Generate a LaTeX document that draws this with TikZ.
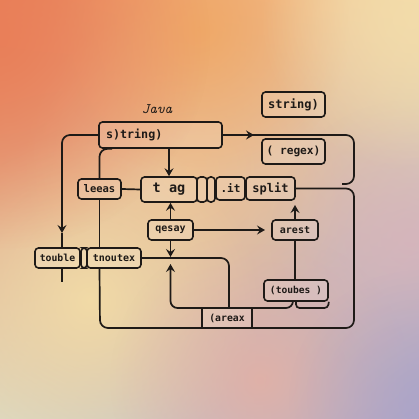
\documentclass[tikz,border=0pt]{standalone}
\usepackage{fontspec}
\newfontfamily\dvmono{DejaVu Sans Mono}
\usetikzlibrary{arrows.meta,fadings,calc,shadings}
\definecolor{ink}{HTML}{1E1A17}
\definecolor{bgUL}{HTML}{EA835A}
\definecolor{bgUR}{HTML}{F3DCAA}
\definecolor{bgLL}{HTML}{DCD8C0}
\definecolor{bgLR}{HTML}{ACA4C8}
\definecolor{blobY}{HTML}{F3DCA6}
\definecolor{blobO}{HTML}{E97E58}
\definecolor{blobT}{HTML}{F0A865}
\definecolor{blobP}{HTML}{E6AFA2}
\definecolor{blobR}{HTML}{D9B2BC}
\definecolor{blobC}{HTML}{F0C594}
\tikzfading[name=blobfade, inner color=transparent!0, outer color=transparent!100]
\begin{document}
\begin{tikzpicture}[x=1pt,y=-1pt,
  wire/.style={draw=ink, line width=1.7pt},
  arr/.style={-{Stealth[length=8pt,width=9pt,inset=3pt]}},
  box/.style={draw=ink, line width=1.6pt, rounded corners=3.5pt, fill=white, fill opacity=0.14, text opacity=1, text=ink, inner sep=0pt},
  sqbox/.style={box, rounded corners=0pt},
  mono/.style={font=\fontsize{#1}{#1}\selectfont\dvmono\bfseries}
]
\useasboundingbox (0,0) rectangle (419,419);
\shade[upper left=bgUL, upper right=bgUR, lower left=bgLL, lower right=bgLR] (0,0) rectangle (419,419);
\begin{scope}
\clip (0,0) rectangle (419,419);
\fill[blobC, path fading=blobfade, fill opacity=0.8] (190,170) circle (170);
\fill[blobT, path fading=blobfade, fill opacity=0.9] (200,30) circle (150);
\fill[blobY, path fading=blobfade, fill opacity=0.95] (90,300) circle (170);
\fill[blobO, path fading=blobfade, fill opacity=0.9] (0,40) circle (210);
\fill[blobP, path fading=blobfade, fill opacity=0.8] (260,380) circle (150);
\fill[blobR, path fading=blobfade, fill opacity=0.7] (410,240) circle (140);
\fill[bgUR, path fading=blobfade, fill opacity=0.85] (410,20) circle (150);
\fill[bgLR, path fading=blobfade, fill opacity=0.6] (419,400) circle (130);
\end{scope}

% title
\node[text=ink, font=\fontsize{14.5}{14.5}\selectfont\ttfamily\itshape] (java) at (157,109) {Java};

% boxes
\node[box, mono=12, minimum width=63pt, minimum height=25pt] (str2) at (293.5,104.5) {string)};
\node[box, mono=11.7, minimum height=26pt, text width=109pt, align=left, inner xsep=7pt] (str1) at (160.5,135) {s)tring)};
\node[box, mono=11.2, minimum width=63pt, minimum height=25pt] (regex) at (293.5,151.5) {( regex)};
\node[box, mono=13.5, minimum width=56pt, minimum height=25pt] (tag) at (169,189.5) {t ag};
\node[box, minimum width=10pt, minimum height=25pt] (sma) at (202,189.5) {};
\node[box, minimum width=8pt, minimum height=25pt] (smb) at (211,189.5) {};
\node[box, mono=11, minimum width=29pt, minimum height=23pt] (it) at (230.5,188.5) {.it};
\node[box, mono=12, minimum width=49pt, minimum height=23pt] (split) at (270.5,188.5) {split};
\node[box, mono=10.5, minimum width=43pt, minimum height=20pt] (leeas) at (99.5,189) {leeas};
\node[box, mono=10, minimum width=45pt, minimum height=20pt] (qesay) at (170.5,230) {qesay};
\node[box, mono=10, minimum width=46pt, minimum height=20pt] (arest) at (295,230) {arest};
\node[box, mono=9.8, minimum width=45pt, minimum height=20pt] (touble) at (57.5,258) {touble};
\node[box, minimum width=6pt, minimum height=20pt] (smc) at (84,258) {};
\node[box, mono=10, minimum width=54pt, minimum height=20pt] (tnoutex) at (114,258) {tnoutex};
\node[box, mono=9.6, minimum width=64pt, minimum height=21pt] (toubes) at (296,290.5) {(toubes )};
\node[sqbox, mono=9.8, minimum width=50pt, minimum height=20pt] (areax) at (227,318) {(areax};

% strip under toubes
\draw[wire, rounded corners=3.5pt] (toubes.south -| 296,0) -- (296,308) -- (328,308) -- (toubes.south east);

% coordinates for free ends
\coordinate (rtip) at (254,135);
\coordinate (ltip) at (62,233);
\coordinate (lend) at (62,282);
\coordinate (qtip) at (170.5,257);
\coordinate (utip) at (170.5,264);
\coordinate (qr) at (265,230);
\coordinate (atip) at (295,205);
\coordinate (ax) at (229,308);
\coordinate (sb) at (293,301);
\coordinate (rend) at (342,184);

% connectors
\draw[wire, rounded corners=8pt] (str1.east) -- (354,135) -- (354,184) -- (rend);
\draw[wire, arr] (str1.east) -- (rtip);
\draw[wire, rounded corners=8pt] (split.east) -- (354,188.5) -- (354,328) -- (100,328) -- (tnoutex.south -| leeas.south);
\draw[wire] (tnoutex.north -| leeas.south) -- (leeas.south);
\draw[wire, rounded corners=8pt] (leeas.north) |- ($(str1.south west)+(14,0)$);
\draw[wire, rounded corners=8pt, arr] (str1.west) -| (ltip);
\draw[wire] (ltip) -- (ltip |- touble.north);
\draw[wire] (ltip |- touble.south) -- (lend);
\draw[wire] (leeas.east) -- (tag.west);
\draw[wire, arr] (str1.south -| tag.north) -- (tag.north);
\draw[wire, arr] (qesay.north) -- (qesay.north |- tag.south);
\draw[wire, arr] (qesay.south) -- (qtip);
\draw[wire, rounded corners=8pt] (tnoutex.east) -| (ax);
\draw[wire, rounded corners=7pt, arr] (sb) |- (170.5,308) -- (utip);
\draw[wire, arr] (qesay.east) -- (qr);
\draw[wire, arr] (arest.north) -- (atip);
\draw[wire] (arest.south |- toubes.north) -- (arest.south);
\end{tikzpicture}
\end{document}
